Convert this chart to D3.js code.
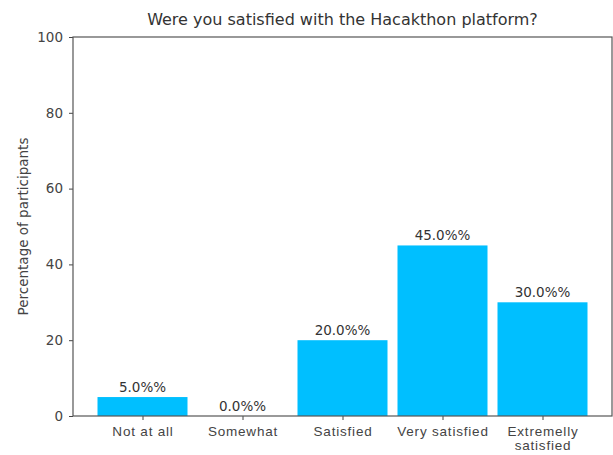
<!DOCTYPE html>
<html>
<head>
<meta charset="utf-8">
<script src="https://cdn.jsdelivr.net/npm/d3@7"></script>
<style>
  html, body { margin: 0; padding: 0; background: #fff; }
  svg { display: block; font-family: "DejaVu Sans", sans-serif; }
</style>
</head>
<body>
<svg id="chart" width="613" height="455"></svg>
<script>
// Survey responses
const categories = ["Not at all", "Somewhat", "Satisfied", "Very satisfied", "Extremelly\nsatisfied"];
const percentages = [5.0, 0.0, 20.0, 45.0, 30.0];
const yTicks = [0, 20, 40, 60, 80, 100];

const width = 613, height = 455;
const margin = { top: 37, right: 1, bottom: 39, left: 73 };
const innerW = width - margin.left - margin.right;
const innerH = height - margin.top - margin.bottom;
const smallFont = 13.5;

const svg = d3.select("#chart");
const g = svg.append("g").attr("transform", `translate(${margin.left},${margin.top})`);

// Categorical positions with padding around the bars
const barFrac = 0.9;
const pad = 0.05 * (categories.length - 1 + barFrac);
const xLin = d3.scaleLinear()
  .domain([-barFrac / 2 - pad, categories.length - 1 + barFrac / 2 + pad])
  .range([0, innerW]);
const unit = xLin(1) - xLin(0);

const y = d3.scaleLinear().domain([0, 100]).range([innerH, 0]);

// Bars
g.selectAll("rect.bar")
  .data(percentages)
  .join("rect")
  .attr("class", "bar")
  .attr("x", (d, i) => xLin(i) - unit * barFrac / 2)
  .attr("width", unit * barFrac)
  .attr("y", d => y(d))
  .attr("height", d => innerH - y(d))
  .attr("fill", "#00bfff");

// Value labels
g.selectAll("text.val")
  .data(percentages)
  .join("text")
  .attr("class", "val")
  .attr("x", (d, i) => xLin(i))
  .attr("y", d => y(d) - 5)
  .attr("text-anchor", "middle")
  .attr("font-size", smallFont)
  .attr("fill", "#333")
  .text(d => d.toFixed(1) + "%%");

// Y axis
const yAxis = g.append("g").call(d3.axisLeft(y).tickValues(yTicks).tickSize(4).tickPadding(6));
yAxis.select(".domain").remove();
yAxis.selectAll(".tick line").attr("stroke", "#444");
yAxis.selectAll(".tick text").attr("font-size", smallFont).attr("fill", "#444").attr("font-family", "DejaVu Sans, sans-serif");

// X axis with (possibly two-line) category labels
const xAxis = g.append("g")
  .attr("transform", `translate(0,${innerH})`)
  .call(d3.axisBottom(xLin).tickValues(d3.range(categories.length)).tickSize(4).tickPadding(6).tickFormat(""));
xAxis.select(".domain").remove();
xAxis.selectAll(".tick line").attr("stroke", "#444");
xAxis.selectAll(".tick").each(function (d) {
  const lines = categories[d].split("\n");
  const t = d3.select(this).append("text")
    .attr("y", 20)
    .attr("text-anchor", "middle")
    .attr("font-size", smallFont)
    .attr("letter-spacing", "0.8px")
    .attr("fill", "#444");
  lines.forEach((ln, k) => {
    t.append("tspan").attr("x", 0).attr("dy", k === 0 ? 0 : 14).text(ln);
  });
});

// Frame
g.append("rect")
  .attr("x", 0).attr("y", 0)
  .attr("width", innerW).attr("height", innerH)
  .attr("fill", "none")
  .attr("stroke", "#555")
  .attr("stroke-width", 1.2);

// Title
svg.append("text")
  .attr("x", margin.left + innerW / 2)
  .attr("y", 25)
  .attr("text-anchor", "middle")
  .attr("font-size", 16)
  .attr("fill", "#333")
  .text("Were you satisfied with the Hacakthon platform?");

// Y label
svg.append("text")
  .attr("transform", `translate(28,${margin.top + innerH / 2}) rotate(-90)`)
  .attr("text-anchor", "middle")
  .attr("font-size", smallFont)
  .attr("fill", "#444")
  .text("Percentage of participants");
</script>
</body>
</html>
